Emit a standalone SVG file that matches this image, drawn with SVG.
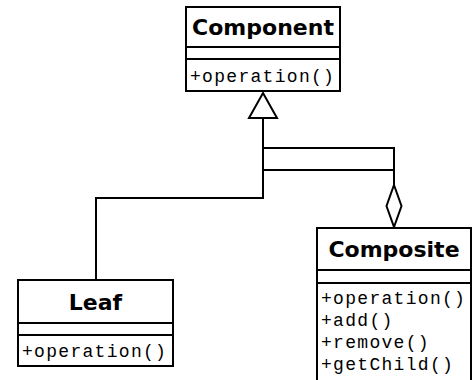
<svg xmlns="http://www.w3.org/2000/svg" width="474" height="380" viewBox="0 0 474 380">
<style>
.box{fill:#fff;stroke:#000;stroke-width:2}
.ln{fill:none;stroke:#000;stroke-width:2}
.head{fill:#fff;stroke:#000;stroke-width:2}
.title{font-family:"DejaVu Sans",sans-serif;font-weight:bold;font-size:22px;text-anchor:middle;fill:#000}
.op{font-family:"Liberation Mono","Courier New",monospace;font-size:18px;letter-spacing:1.3px;fill:#000}
</style>
<rect width="474" height="380" fill="#fff"/>
<g id="connectors">
<polyline class="ln" points="96,280 96,198 263,198 263,118"/>
<polyline class="ln" points="263,170 394,170"/>
<polyline class="ln" points="263,148 394,148 394,185"/>
<polygon class="head" points="263,93 277,118 249,118"/>
<polygon class="head" points="394,185 401.5,206 394,227 386.5,206"/>
</g>
<g id="component">
<rect class="box" x="186" y="7" width="154" height="84"/>
<line class="ln" x1="186" y1="47" x2="340" y2="47"/>
<line class="ln" x1="186" y1="59" x2="340" y2="59"/>
<text class="title" x="263" y="35">Component</text>
<text class="op" x="190" y="82">+operation()</text>
</g>
<g id="leaf">
<rect class="box" x="18" y="280" width="155" height="86"/>
<line class="ln" x1="18" y1="323" x2="173" y2="323"/>
<line class="ln" x1="18" y1="335" x2="173" y2="335"/>
<text class="title" x="95.5" y="310">Leaf</text>
<text class="op" x="22" y="357">+operation()</text>
</g>
<g id="composite">
<rect class="box" x="317" y="228" width="154" height="160"/>
<line class="ln" x1="317" y1="270" x2="471" y2="270"/>
<line class="ln" x1="317" y1="283" x2="471" y2="283"/>
<text class="title" x="394" y="257">Composite</text>
<text class="op" x="321" y="304">+operation()</text>
<text class="op" x="321" y="326">+add()</text>
<text class="op" x="321" y="348">+remove()</text>
<text class="op" x="321" y="370">+getChild()</text>
</g>
</svg>
